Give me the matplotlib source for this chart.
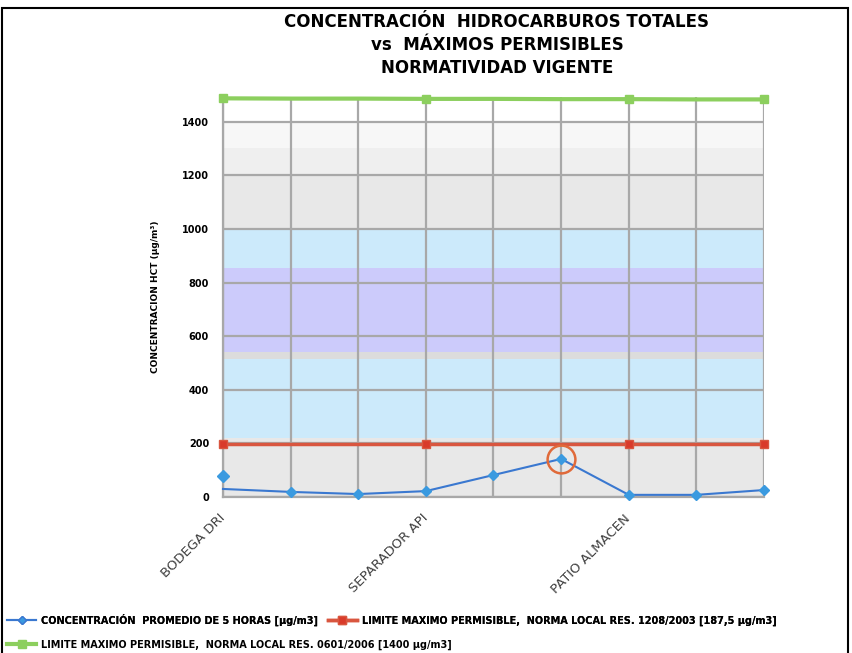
import matplotlib
matplotlib.use("Agg")
import matplotlib.pyplot as plt
from matplotlib.lines import Line2D
from matplotlib.patches import Rectangle

# ---- data ----
categories = ["BODEGA DRI", "", "", "SEPARADOR API", "", "", "PATIO ALMACEN", "", ""]
label_idx = [0, 3, 6]
concentracion = [30, 19, 11, 22, 82, 142, 8, 8, 26]
bodega_extra = [80]
limite_1208 = [197, 197, 197, 197, 197, 197, 197, 197, 197]
limite_0601 = [1487, 1486, 1486, 1485, 1485, 1484, 1484, 1483, 1483]
yticks = [0, 200, 400, 600, 800, 1000, 1200, 1400]
bands = [(0, 220, "#e8e8e8"), (220, 515, "#cceafb"), (515, 541, "#dcdcdc"),
         (541, 854, "#cccbfb"), (854, 1000, "#cceafb"), (1000, 1200, "#e8e8e8"),
         (1200, 1300, "#efefef"), (1300, 1400, "#f7f7f7")]
peak_idx = 5

W, H = 853, 653
fig = plt.figure(figsize=(W/100, H/100), dpi=100)
ax = fig.add_axes([223/W, 1-497/H, (764-223)/W, (497-97)/H])

x = list(range(len(categories)))
for lo, hi, c in bands:
    ax.axhspan(lo, hi, color=c, zorder=0, lw=0)

ax.set_xlim(0, 8)
ax.set_ylim(0, 1492)
ax.set_yticks(yticks)
ax.set_yticklabels([str(t) for t in yticks], fontsize=7, fontweight="heavy")
ax.set_xticks(x)
ax.set_xticklabels(["" for _ in x])
for i in label_idx:
    ax.text(i - 0.07, -55, categories[i], rotation=45, ha="right", va="top",
            fontsize=9.5, color="#404040", rotation_mode="anchor")
ax.tick_params(axis="both", length=0, pad=10)
ax.grid(True, color="#a8a8a8", lw=1.6, zorder=1)
ax.set_axisbelow(True)
for s in ["top", "right"]:
    ax.spines[s].set_visible(False)
for s in ["left", "bottom"]:
    ax.spines[s].set_color("#a8a8a8")
    ax.spines[s].set_linewidth(1.6)

ax.plot(x, limite_0601, color="#8ccf5e", lw=3, marker="s", ms=6,
        markevery=[0, 3, 6, 8], zorder=4, clip_on=False)
ax.plot(x, limite_1208, color="#d9563f", lw=2.5, marker="s", ms=6,
        markerfacecolor="#d93a2a", markevery=[0, 3, 6, 8], zorder=4, clip_on=False)
ax.plot(x, concentracion, color="#3a78d0", lw=1.5, marker="D", ms=5,
        markerfacecolor="#3a9ae0", markeredgecolor="#3a9ae0", markevery=list(range(1, 9)),
        zorder=5, clip_on=False)
ax.plot([0], bodega_extra, ls="none", marker="D", ms=6, color="#3a9ae0", zorder=5, clip_on=False)
ax.plot([peak_idx], [concentracion[peak_idx]], ls="none", marker="o", ms=20,
        markerfacecolor="none", markeredgecolor="#e06a3a", mew=1.8, zorder=6)

ax.set_ylabel("CONCENTRACION HCT (µg/m³)", fontsize=6.5, fontweight="heavy", labelpad=16)

for yy, t in [(22, "CONCENTRACIÓN  HIDROCARBUROS TOTALES"),
              (45, "vs  MÁXIMOS PERMISIBLES"),
              (68, "NORMATIVIDAD VIGENTE")]:
    fig.text(497/W, 1-yy/H, t, ha="center", va="center", fontsize=12, fontweight="heavy")

# frame
fig.patches.append(Rectangle((2/W, -0.01), (848-2)/W, 1-8/H + 0.01, transform=fig.transFigure,
                             fill=False, ec="black", lw=1.5))

h_blue = Line2D([], [], color="#3a78d0", lw=1.5, marker="D", ms=4, markerfacecolor="#3a9ae0")
h_red = Line2D([], [], color="#d9563f", lw=2.5, marker="s", ms=6, markerfacecolor="#d93a2a")
h_green = Line2D([], [], color="#8ccf5e", lw=3, marker="s", ms=6)
leg1 = fig.legend([h_blue, h_red],
                  ["CONCENTRACIÓN  PROMEDIO DE 5 HORAS [µg/m3]",
                   "LIMITE MAXIMO PERMISIBLE,  NORMA LOCAL RES. 1208/2003 [187,5 µg/m3]"],
                  loc="center left", bbox_to_anchor=(7/W, 1-620/H), ncol=2, frameon=False,
                  prop={"size": 7, "weight": "heavy"}, handlelength=3, columnspacing=1.0,
                  handletextpad=0.5, borderaxespad=0, borderpad=0)
fig.add_artist(leg1)
fig.legend([h_green],
           ["LIMITE MAXIMO PERMISIBLE,  NORMA LOCAL RES. 0601/2006 [1400 µg/m3]"],
           loc="center left", bbox_to_anchor=(7/W, 1-645/H), frameon=False,
           prop={"size": 7, "weight": "heavy"}, handlelength=3, handletextpad=0.5,
           borderaxespad=0, borderpad=0)

fig.savefig("out.png", dpi=100)
